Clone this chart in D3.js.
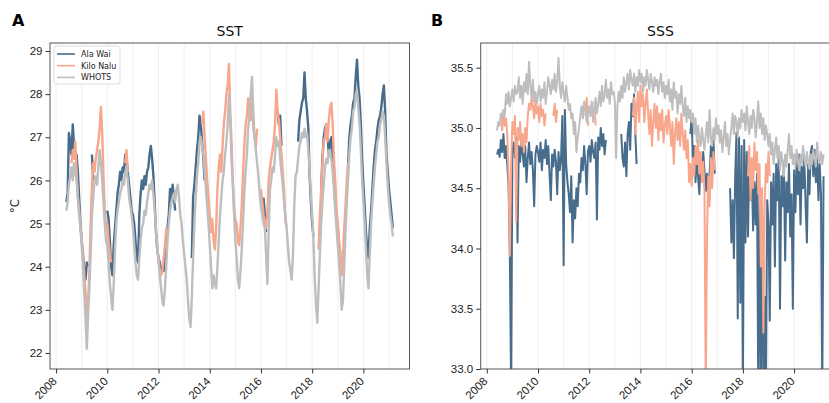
<!DOCTYPE html>
<html>
<head>
<meta charset="utf-8">
<script src="https://cdn.jsdelivr.net/npm/d3@7"></script>
<style>
  body { margin: 0; background: #fff; }
  svg { display: block; font-family: "DejaVu Sans", sans-serif; }
</style>
</head>
<body>
<svg id="chart" width="829" height="403"></svg>
<script>
const _ = null;

const seriesNames = ["Ala Wai", "Kilo Nalu", "WHOTS"];
const seriesColors = ["#486c8c", "#f8a68c", "#bebebe"];
const yearTicks = [2008, 2010, 2012, 2014, 2016, 2018, 2020];
const gridYears = d3.range(2008, 2022);
const sstTicks = [22, 23, 24, 25, 26, 27, 28, 29];
const sssTicks = [33.0, 33.5, 34.0, 34.5, 35.0, 35.5];

// one row per year, steps of 0.05 yr; first row starts at 2008.40
const sstAlaWai = [
  [25.5,25.7,27.1,26.9,26.6,27.3,26.8,26.5,26.6,26.2,25.6,25.0],
  [24.6,24.3,23.9,23.7,24.1,24.0,_,_,26.6,26.0,_,_,_,_,_,_,_,_,_,_],
  [25.3,25.1,24.6,24.0,23.8,24.5,24.9,25.3,25.7,25.9,26.2,26.0,26.3,26.2,26.6,26.5,26.2,25.9,25.6,25.3],
  [25.2,25.0,24.6,24.2,24.1,25.2,25.7,26.0,25.8,26.1,25.9,26.2,26.3,26.6,26.8,26.5,26.1,25.5,24.8,24.4],
  [24.2,24.1,23.9,24.0,23.9,24.2,24.5,24.9,25.2,25.8,25.5,25.9,25.6,25.3,_,_,_,_,_,_],
  [_,_,_,_,_,_,24.2,25.6,25.9,26.3,26.7,27.0,27.5,27.3,26.9,26.5,26.0,_,_,_],
  [_,_,_,_,_,_,_,_,_,_,_,_,_,_,_,_,_,_,_,_],
  [_,_,_,_,_,_,_,_,_,_,_,_,_,_,_,_,_,_,_,_],
  [_,_,25.6,25.2,24.8,_,_,_,_,_,_,_,_,27.6,27.3,27.5,26.8,_,_,_],
  [_,_,_,_,_,_,_,_,_,26.9,27.4,27.6,27.8,27.9,28.5,27.9,27.6,27.2,26.1,25.5],
  [25.0,24.7,_,_,_,_,_,25.8,26.5,27.0,27.2,27.3,27.0,26.6,26.9,27.0,26.6,26.0,25.5,25.2],
  [24.9,24.5,24.3,_,_,_,_,_,26.3,27.0,27.3,27.5,27.8,27.9,28.4,28.8,28.2,27.9,27.3,26.5],
  [25.9,25.4,24.8,24.4,24.2,24.9,25.3,25.8,26.3,26.7,26.9,27.2,27.4,27.5,27.7,28.0,28.2,27.6,26.6,26.2],
  [25.8,25.5,25.2,24.9]
];

const sstKiloNalu = [
  [_,_,_,_,26.4,26.7,26.5,26.9,26.2,25.6,25.3,24.9],
  [24.7,24.2,23.8,23.4,22.9,23.2,23.9,25.0,25.9,26.4,26.2,26.5,26.7,26.9,27.2,27.7,27.1,26.1,25.3,24.9],
  [25.0,24.6,24.3,24.1,_,_,_,_,_,_,_,_,_,_,26.4,26.7,26.2,_,_,_],
  [_,_,_,_,_,_,_,_,_,_,_,_,_,_,_,_,_,_,24.8,24.4],
  [24.2,23.9,23.8,23.9,24.2,24.5,24.9,_,_,_,_,_,_,_,_,_,_,_,_,_],
  [_,_,_,_,_,_,_,_,_,_,_,_,_,_,27.3,27.6,27.0,26.5,26.0,25.6],
  [25.2,24.8,25.1,24.6,24.4,24.9,25.8,26.3,26.6,26.2,26.8,27.3,27.6,28.0,28.2,28.7,27.6,26.9,26.0,25.4],
  [25.1,25.0,24.6,24.5,24.9,25.4,26.2,26.8,27.3,27.5,27.9,27.6,27.4,27.8,27.2,27.0,26.8,27.2,_,_],
  [25.8,25.5,25.2,25.0,24.9,25.3,26.0,26.3,26.5,26.7,26.9,27.3,28.1,27.6,27.4,27.0,26.6,26.2,25.8,25.1],
  [24.9,_,_,_,_,_,_,_,_,_,_,_,_,_,_,_,_,_,_,_],
  [_,_,_,_,_,24.4,25.2,25.8,26.4,26.9,27.0,27.3,26.9,27.4,27.7,27.8,27.3,26.5,26.0,25.3],
  [25.0,24.6,24.3,23.8,24.2,24.9,25.4,26.0,26.4,_,_,_,_,_,_,_,_,_,_,_],
  [_,_,_,_,_,_,_,_,_,_,_,_,_,_,_,_,_,_,_,_],
  [_,_,_,_]
];

const sstWhots = [
  [25.3,25.5,25.9,26.1,26.3,26.0,26.4,26.2,26.0,25.6,25.2,24.9],
  [24.5,24.0,23.4,22.8,22.1,22.9,23.5,24.3,25.2,25.6,26.0,26.1,25.9,26.3,26.7,26.4,26.0,25.5,25.0,24.6],
  [24.5,24.1,23.6,23.3,23.0,23.6,24.4,25.0,25.3,25.5,25.7,25.8,26.0,25.9,26.2,26.3,26.0,25.6,25.4,25.2],
  [24.9,24.5,24.1,23.8,23.7,24.2,24.6,24.9,25.0,25.3,25.2,25.5,25.7,25.9,25.8,26.0,25.7,25.3,24.9,24.5],
  [24.1,23.8,23.5,23.2,23.1,23.5,24.0,24.6,25.0,25.3,25.5,25.6,25.7,25.5,25.8,25.9,25.6,25.2,25.0,24.6],
  [24.3,24.0,23.7,23.2,22.8,22.6,23.3,24.2,25.0,25.6,26.1,26.4,26.9,27.0,26.8,26.6,26.2,25.8,25.4,25.0],
  [24.5,24.0,23.5,23.8,23.6,23.5,24.0,24.6,25.2,25.6,26.0,26.2,26.6,26.9,27.3,28.0,27.4,26.5,25.9,25.2],
  [24.6,24.2,23.7,23.5,23.9,24.4,25.0,25.7,26.2,26.6,27.2,27.5,28.0,28.4,27.6,27.0,26.7,26.4,26.1,25.7],
  [25.4,25.2,25.0,24.9,24.3,23.6,24.8,25.8,26.0,26.3,26.2,26.6,27.0,26.8,26.9,26.5,26.2,25.9,25.5,25.2],
  [24.9,24.5,24.1,23.9,23.7,24.3,25.4,26.1,26.2,26.5,26.8,26.9,27.1,27.0,27.2,27.0,27.1,26.7,26.2,25.7],
  [25.2,24.6,23.7,23.1,22.7,23.5,24.3,25.0,25.5,25.9,26.3,26.5,26.4,26.7,26.6,26.5,26.2,25.8,25.3,24.9],
  [24.5,24.1,23.6,23.0,23.2,24.0,24.8,25.5,26.0,26.6,27.0,27.2,27.6,27.7,28.0,28.1,27.7,27.3,26.7,26.0],
  [25.5,25.0,24.4,23.8,23.5,24.3,25.0,25.5,25.9,26.3,26.6,26.9,27.0,27.3,27.4,27.6,27.5,27.0,26.4,25.9],
  [25.5,25.2,25.0,24.7]
];

const sssAlaWai = [
  [34.78,34.82,34.76,34.90,34.80,34.95,34.75,34.85,34.70,34.52,33.95,32.80],
  [34.80,34.88,34.75,34.92,34.05,34.85,34.72,34.90,34.78,34.68,34.85,34.55,34.75,34.88,34.70,34.80,34.65,34.35,34.78,34.85],
  [34.80,34.72,34.88,34.65,34.82,34.75,34.90,34.70,34.85,34.62,34.40,34.78,34.68,34.82,34.72,34.45,34.80,34.65,34.75,35.10],
  [33.86,35.15,34.70,34.55,34.45,34.30,34.60,34.05,34.40,34.25,34.50,34.35,34.62,34.55,34.75,34.65,34.85,34.70,34.45,34.80],
  [34.85,34.72,34.90,34.80,34.75,34.88,34.24,34.92,34.82,35.00,34.85,34.95,34.78,34.90,_,_,_,_,_,_],
  [_,_,_,_,_,34.95,34.75,34.68,34.88,34.60,34.95,35.05,34.82,35.20,35.10,35.28,34.95,34.70,_,_],
  [_,_,_,_,_,_,_,_,_,_,_,_,_,_,_,_,_,_,_,_],
  [_,_,_,_,_,_,_,_,_,_,_,_,_,_,_,_,_,_,_,34.95],
  [35.10,34.70,34.85,34.55,34.75,34.60,34.45,34.72,34.58,34.80,34.65,34.48,34.62,34.38,34.62,34.85,34.70,34.90,34.62,_],
  [_,_,_,_,_,_,_,_,_,_,34.50,34.05,34.40,33.92,34.60,34.96,33.42,34.92,33.55,34.85],
  [32.80,34.90,34.05,34.80,34.10,34.75,34.40,34.60,34.15,34.55,34.20,34.62,32.80,34.50,32.80,34.30,32.80,33.60,32.80,34.40],
  [34.20,33.40,34.55,34.20,34.62,33.85,34.70,34.40,34.75,33.50,34.60,34.35,34.72,33.90,34.55,34.30,34.70,34.10,34.45,33.50],
  [34.65,34.30,34.72,34.45,34.78,34.20,34.68,34.50,34.75,34.35,34.05,34.70,34.45,34.80,34.85,34.60,34.82,34.55,34.78,34.40],
  [34.70,34.45,32.80,34.60]
];

const sssKiloNalu = [
  [_,_,_,35.12,34.98,35.15,35.02,35.08,34.95,34.60,33.94,34.70],
  [35.05,34.95,35.10,34.22,35.00,34.90,35.05,34.85,34.95,34.80,35.00,34.88,35.10,35.20,35.15,35.25,35.18,35.08,35.22,35.12],
  [35.18,35.05,35.20,35.10,35.15,35.02,35.12,_,_,_,_,_,35.10,35.20,35.05,35.15,_,_,_,_],
  [_,_,_,_,_,_,_,_,_,_,_,_,_,_,_,_,_,35.10,35.25,35.02],
  [_,_,_,_,35.22,35.02,_,_,_,_,_,_,_,_,_,_,_,_,_,_],
  [_,_,_,_,_,_,_,_,_,_,_,_,_,_,35.10,35.25,34.95,35.15,35.30,35.05],
  [35.35,35.18,35.28,35.05,35.20,35.32,35.12,34.95,35.15,34.85,35.05,35.20,35.00,35.18,34.90,35.12,34.98,35.15,34.88,35.02],
  [35.10,34.95,35.15,35.02,34.85,35.05,34.70,34.95,35.08,34.90,35.05,34.85,35.12,34.95,34.82,34.98,34.75,34.90,34.55,34.70],
  [34.52,34.75,34.60,34.85,34.70,34.90,34.62,34.80,34.55,34.72,34.48,32.80,34.14,34.60,34.35,34.75,34.50,34.80,34.65,_],
  [_,_,_,_,_,_,_,_,_,_,_,_,_,_,_,_,_,_,_,_],
  [_,_,_,_,34.60,34.85,34.40,34.75,34.50,34.88,34.65,34.80,34.45,34.70,33.85,34.50,33.30,34.35,34.70,34.55],
  [34.80,34.60,_,_,_,_,_,_,_,_,_,_,_,_,_,_,_,_,_,_],
  [_,_,_,_,_,_,_,_,_,_,_,_,_,_,_,_,_,_,_,_],
  [_,_,_,_]
];

const sssWhots = [
  [34.98,35.05,35.02,35.12,35.08,35.15,35.10,35.28,35.20,35.30,35.18,35.25],
  [35.32,35.22,35.35,35.28,35.30,35.42,35.25,35.35,35.20,35.38,35.30,35.45,35.28,35.55,35.35,35.25,35.40,35.22,35.30,35.20],
  [35.28,35.35,35.22,35.32,35.25,35.38,35.20,35.30,35.42,35.35,35.28,35.40,35.32,35.45,35.30,35.38,35.58,35.35,35.25,35.38],
  [35.30,35.22,35.35,35.25,35.15,35.20,35.08,35.12,34.95,35.05,34.80,34.92,35.00,35.10,35.18,35.08,35.22,35.15,35.05,35.12],
  [35.18,35.10,35.22,35.05,35.15,35.25,35.12,35.20,35.30,35.18,35.35,35.22,35.28,35.40,35.25,35.32,35.20,35.38,35.28,35.30],
  [35.22,34.75,35.18,35.30,35.22,35.35,35.25,35.42,35.30,35.38,35.45,35.32,35.48,35.40,35.35,35.45,35.30,35.42,35.35,35.48],
  [35.38,35.45,35.30,35.42,35.35,35.48,35.40,35.32,35.45,35.38,35.30,35.42,35.35,35.40,35.28,35.38,35.45,35.30,35.38,35.25],
  [35.35,35.28,35.40,35.22,35.32,35.15,35.38,35.25,35.30,35.12,35.28,35.20,35.35,35.18,35.10,35.25,35.05,35.18,35.08,35.15],
  [35.05,35.12,34.95,35.08,34.88,35.02,34.92,34.85,35.00,34.90,34.82,34.95,35.05,34.88,35.15,34.92,34.85,35.00,34.90,35.08],
  [34.95,35.02,34.88,34.98,34.80,34.92,35.05,34.85,34.95,34.78,34.90,35.00,35.12,34.95,35.10,35.05,34.92,35.08,35.00,35.15],
  [35.05,35.12,34.98,35.18,35.05,34.95,35.10,35.00,35.15,35.08,34.92,35.05,35.22,35.00,35.12,34.95,35.08,34.90,35.02,34.95],
  [34.85,34.95,34.78,34.88,34.70,34.82,34.92,34.75,34.85,34.65,34.80,34.72,34.60,34.78,34.68,34.82,34.95,34.75,34.85,34.70],
  [34.78,34.68,34.82,34.72,34.65,34.78,34.70,34.85,34.75,34.68,34.80,34.72,34.66,34.78,34.70,34.82,34.75,34.68,34.88,34.75],
  [34.72,34.80,34.70,34.78]
];

const WIDTH = 829, HEIGHT = 403;
const TOP = 43, BOTTOM = 369, PANEL_W = 359.5;
const X_DOMAIN = [2007.762, 2021.80];

const svg = d3.select("#chart");
svg.append("rect").attr("width", WIDTH).attr("height", HEIGHT).attr("fill", "#fff");

function rowsToPoints(rows) {
  const pts = [];
  rows.forEach((row, r) => {
    const start = r === 0 ? 2008.40 : 2008 + r;
    row.forEach((v, j) => pts.push({ t: start + 0.05 * j, v }));
  });
  return pts;
}

function drawPanel(opts) {
  const x = d3.scaleLinear().domain(X_DOMAIN).range([opts.left, opts.left + PANEL_W]);
  const y = d3.scaleLinear().domain(opts.yDomain).range([BOTTOM, TOP]);
  const g = svg.append("g");

  g.append("clipPath").attr("id", opts.clipId)
    .append("rect")
    .attr("x", opts.left).attr("y", TOP)
    .attr("width", PANEL_W).attr("height", BOTTOM - TOP);

  g.append("g")
    .selectAll("line")
    .data(gridYears)
    .join("line")
    .attr("x1", (d) => x(d)).attr("x2", (d) => x(d))
    .attr("y1", TOP).attr("y2", BOTTOM)
    .attr("stroke", "#ebebeb")
    .attr("stroke-width", 0.8);

  const line = d3.line()
    .defined((d) => d.v !== null)
    .x((d) => x(d.t))
    .y((d) => y(d.v));

  g.append("g")
    .attr("clip-path", `url(#${opts.clipId})`)
    .selectAll("path")
    .data(opts.series)
    .join("path")
    .attr("d", (rows) => line(rowsToPoints(rows)))
    .attr("fill", "none")
    .attr("stroke", (d, i) => seriesColors[i])
    .attr("stroke-width", opts.lineWidth)
    .attr("stroke-linejoin", "round");

  g.append("rect")
    .attr("x", opts.left).attr("y", TOP)
    .attr("width", PANEL_W).attr("height", BOTTOM - TOP)
    .attr("fill", "none")
    .attr("stroke", "#555")
    .attr("stroke-width", 1);

  const yAxis = g.append("g")
    .attr("transform", `translate(${opts.left},0)`)
    .call(d3.axisLeft(y).tickValues(opts.yTicks).tickFormat(opts.fmt).tickSize(4.5).tickPadding(3));
  yAxis.select(".domain").remove();
  yAxis.selectAll("line").attr("stroke", "#333");
  yAxis.selectAll("text").attr("font-size", 11.5).attr("fill", "#222");

  const xAxis = g.append("g")
    .attr("transform", `translate(0,${BOTTOM})`)
    .call(d3.axisBottom(x).tickValues(yearTicks).tickFormat(d3.format("d")).tickSize(4.5));
  xAxis.select(".domain").remove();
  xAxis.selectAll("line").attr("stroke", "#333");
  xAxis.selectAll("text")
    .attr("font-size", 11.5)
    .attr("fill", "#222")
    .attr("text-anchor", "end")
    .attr("x", 0).attr("y", 0).attr("dy", 0)
    .attr("transform", "translate(1,13) rotate(-45)");

  g.append("text")
    .attr("x", opts.left + PANEL_W / 2).attr("y", 36)
    .attr("text-anchor", "middle")
    .attr("font-size", 14)
    .attr("fill", "#111")
    .text(opts.title);

  g.append("text")
    .attr("x", opts.letterX).attr("y", 26)
    .attr("font-size", 16)
    .attr("font-weight", "bold")
    .attr("fill", "#000")
    .text(opts.letter);

  return { x, y, g };
}

const panelA = drawPanel({
  left: 50, title: "SST", letter: "A", letterX: 12,
  yDomain: [21.629, 29.185], yTicks: sstTicks, fmt: d3.format("d"),
  series: [sstAlaWai, sstKiloNalu, sstWhots], clipId: "clipA", lineWidth: 2.4
});

drawPanel({
  left: 480.7, title: "SSS", letter: "B", letterX: 431,
  yDomain: [33.0, 35.705], yTicks: sssTicks, fmt: d3.format(".1f"),
  series: [sssAlaWai, sssKiloNalu, sssWhots], clipId: "clipB", lineWidth: 2
});

svg.append("text")
  .attr("transform", "translate(19,206) rotate(-90)")
  .attr("text-anchor", "middle")
  .attr("font-size", 11.5)
  .attr("fill", "#222")
  .text("°C");

// legend in panel A
const legend = panelA.g.append("g").attr("transform", "translate(54,46)");
legend.append("rect")
  .attr("width", 66).attr("height", 38).attr("rx", 2.5)
  .attr("fill", "#fff").attr("fill-opacity", 0.85)
  .attr("stroke", "#d4d4d4").attr("stroke-width", 0.8);
seriesNames.forEach((name, i) => {
  const row = legend.append("g").attr("transform", `translate(0,${8 + i * 11.7})`);
  row.append("line")
    .attr("x1", 3).attr("x2", 21)
    .attr("stroke", seriesColors[i]).attr("stroke-width", 1.6);
  row.append("text")
    .attr("x", 27).attr("y", 3)
    .attr("font-size", 8)
    .attr("fill", "#222")
    .text(name);
});
</script>
</body>
</html>
